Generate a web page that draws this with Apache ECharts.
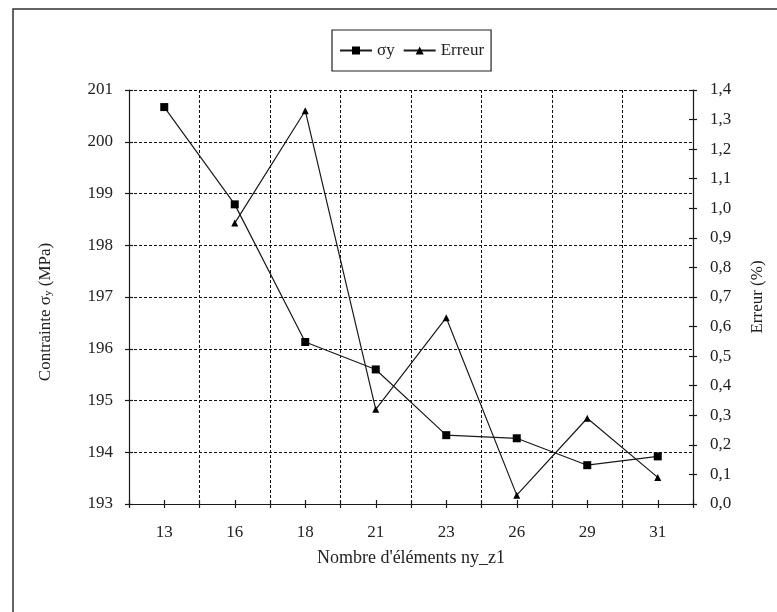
<!DOCTYPE html>
<html>
<head>
<meta charset="utf-8">
<script src="https://cdn.jsdelivr.net/npm/echarts@6/dist/echarts.min.js"></script>
<style>
html,body{margin:0;padding:0;background:#fff;}
#c{width:777px;height:612px;}
</style>
</head>
<body>
<div id="c"></div>
<script>
var categories = ['13', '16', '18', '21', '23', '26', '29', '31'];
var sigmaY = [200.67, 198.79, 196.13, 195.6, 194.33, 194.27, 193.75, 193.92];
var erreur = [null, 0.95, 1.33, 0.32, 0.63, 0.03, 0.29, 0.09];
var leftTicks = {min: 193, max: 201, interval: 1};
var rightTicks = {min: 0, max: 1.4, interval: 0.1};

var FONT = 'Liberation Serif';
var TXT = '#222';
var LINE = '#1a1a1a';

function xAx(opts) {
  var base = {
    type: 'category', data: categories, boundaryGap: true, position: 'bottom',
    axisLine: {show: false, lineStyle: {color: LINE, width: 1.2}},
    axisTick: {show: true, interval: 0, length: 4, inside: false, lineStyle: {color: LINE, width: 1.2}},
    axisLabel: {show: false}, splitLine: {show: false}
  };
  return Object.assign(base, opts);
}
function yAx(t, pos, opts) {
  var base = {
    type: 'value', position: pos, min: t.min, max: t.max, interval: t.interval,
    axisLine: {show: false, lineStyle: {color: LINE, width: 1.2}},
    axisTick: {show: true, length: 4, inside: false, lineStyle: {color: LINE, width: 1.2}},
    axisLabel: {show: false}, splitLine: {show: false}
  };
  return Object.assign(base, opts);
}

var chart = echarts.init(document.getElementById('c'), null, {renderer: 'canvas'});
chart.setOption({
  animation: false,
  backgroundColor: '#fff',
  graphic: [{
    type: 'rect', shape: {x: 13, y: 9, width: 800, height: 700},
    style: {fill: 'none', stroke: '#333', lineWidth: 1.5}, silent: true, z: -1
  }],
  legend: {
    left: 332, top: 30,
    padding: [12, 7],
    itemGap: 8, itemWidth: 32, itemHeight: 10,
    borderColor: '#222', borderWidth: 1.2,
    textStyle: {fontFamily: FONT, fontSize: 17, color: TXT},
    data: ['σy', 'Erreur']
  },
  grid: {left: 129, right: 84, top: 90, bottom: 108, containLabel: false},
  xAxis: [
    xAx({
      axisLine: {show: true, lineStyle: {color: LINE, width: 1.2}},
      axisLabel: {show: true, interval: 0, margin: 20, fontFamily: FONT, fontSize: 17, color: TXT},
      splitLine: {show: true, interval: 0, lineStyle: {color: '#111', type: [3, 2], width: 1}},
      name: "Nombre d'éléments ny_z1", nameLocation: 'middle', nameGap: 45,
      nameTextStyle: {fontFamily: FONT, fontSize: 18, color: TXT}
    }),
    xAx({axisTick: {show: true, interval: 0, length: 4, inside: true, lineStyle: {color: LINE, width: 1.2}}}),
    xAx({axisTick: {show: true, interval: 0, alignWithLabel: true, length: 4, inside: false, lineStyle: {color: LINE, width: 1.2}}}),
    xAx({axisTick: {show: true, interval: 0, alignWithLabel: true, length: 4, inside: true, lineStyle: {color: LINE, width: 1.2}}})
  ],
  yAxis: [
    yAx(leftTicks, 'left', {
      axisLine: {show: true, lineStyle: {color: LINE, width: 1.2}},
      axisLabel: {show: true, margin: 16, fontFamily: FONT, fontSize: 17, color: TXT},
      splitLine: {show: true, lineStyle: {color: '#111', type: [3, 2], width: 1}},
      name: 'Contrainte σ{s|y} (MPa)', nameLocation: 'middle', nameGap: 75, nameRotate: 90,
      nameTextStyle: {fontFamily: FONT, fontSize: 17, color: TXT, padding: [0, 30, 0, 0],
        rich: {s: {fontFamily: FONT, fontSize: 11, color: TXT, verticalAlign: 'bottom', padding: [6, 0, 0, 0]}}}
    }),
    yAx(leftTicks, 'left', {axisTick: {show: true, length: 4, inside: true, lineStyle: {color: LINE, width: 1.2}}}),
    yAx(rightTicks, 'right', {
      axisLine: {show: true, lineStyle: {color: LINE, width: 1.2}},
      axisLabel: {show: true, margin: 17, fontFamily: FONT, fontSize: 17, color: TXT,
        formatter: function (v) { return v.toFixed(1).replace('.', ','); }},
      name: 'Erreur (%)', nameLocation: 'middle', nameGap: 56, nameRotate: 90,
      nameTextStyle: {fontFamily: FONT, fontSize: 17, color: TXT}
    }),
    yAx(rightTicks, 'right', {axisTick: {show: true, length: 4, inside: true, lineStyle: {color: LINE, width: 1.2}}})
  ],
  series: [{
    name: 'σy', type: 'line', xAxisIndex: 0, yAxisIndex: 0, data: sigmaY,
    symbol: 'rect', symbolSize: 8,
    lineStyle: {color: LINE, width: 1.2}, itemStyle: {color: '#000'}
  }, {
    name: 'Erreur', type: 'line', xAxisIndex: 0, yAxisIndex: 2, data: erreur,
    symbol: 'triangle', symbolSize: 7,
    lineStyle: {color: LINE, width: 1.2}, itemStyle: {color: '#000'}
  }]
});
</script>
</body>
</html>
